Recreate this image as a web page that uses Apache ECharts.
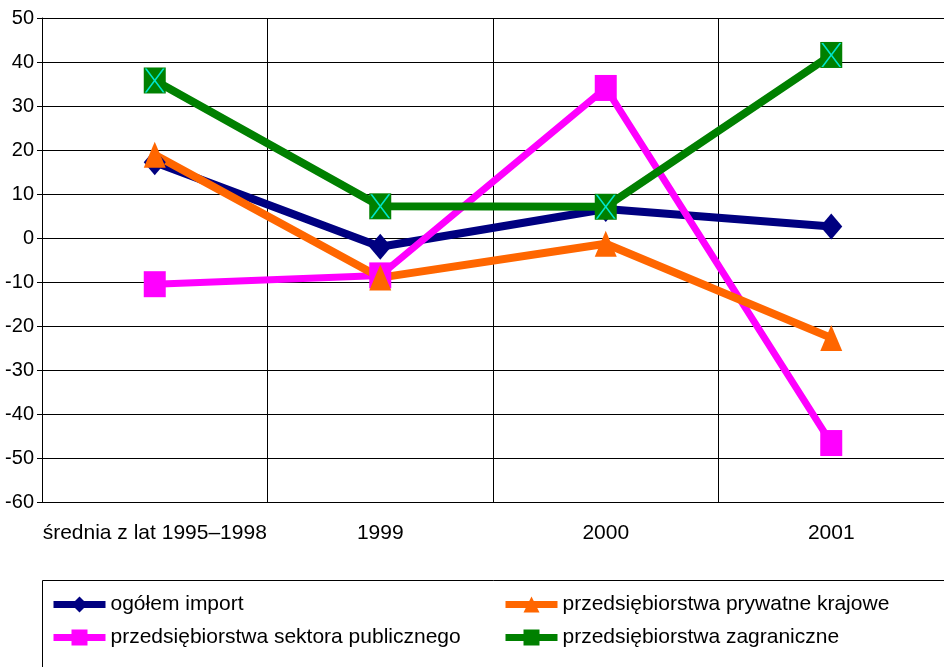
<!DOCTYPE html>
<html>
<head>
<meta charset="utf-8">
<script src="https://cdn.jsdelivr.net/npm/echarts@6/dist/echarts.min.js"></script>
<style>
  html, body { margin: 0; padding: 0; background: #fff; }
  #chart { width: 944px; height: 667px; }
</style>
</head>
<body>
<div id="chart"></div>
<script>
var categories = ['średnia z lat 1995–1998', '1999', '2000', '2001'];
var ogolem = [17.2, -2, 6.6, 2.6];
var prywatne = [18.9, -9, -1.3, -22.7];
var publiczne = [-10.5, -8.5, 34.1, -46.6];
var zagraniczne = [35.8, 7.2, 7.1, 41.6];
var yMin = -60, yMax = 50, yStep = 10;

var names = ['ogółem import', 'przedsiębiorstwa sektora publicznego',
  'przedsiębiorstwa prywatne krajowe', 'przedsiębiorstwa zagraniczne'];

var font = 'Liberation Sans, Arial, sans-serif';
// X for the foreign series markers (two thin diagonal strips)
var crossPath = 'path://M0,0 L2,0 L10,8.5 L18,0 L20,0 L11,9.5 L20,19 L18,19 L10,10.5 L2,19 L0,19 L9,9.5 Z';

var chart = echarts.init(document.getElementById('chart'));

function lineSeries(name, data, color, symbol, width) {
  return {
    name: name,
    type: 'line',
    data: data,
    symbol: symbol,
    symbolSize: [22, 26],
    showAllSymbol: true,
    lineStyle: { color: color, width: width },
    itemStyle: { color: color, borderWidth: 0 },
    emphasis: { disabled: true },
    animation: false
  };
}

var legendCommon = {
  orient: 'vertical',
  itemWidth: 52,
  itemHeight: 20,
  itemGap: 12,
  selectedMode: false,
  lineStyle: { width: 7 },
  textStyle: { fontFamily: font, fontSize: 21, color: '#000' }
};

chart.setOption({
  backgroundColor: '#fff',
  grid: { left: 42, right: 0, top: 18, bottom: 165 },
  xAxis: {
    type: 'category',
    data: categories,
    boundaryGap: true,
    axisLine: { onZero: false, lineStyle: { color: '#000', width: 1 } },
    axisTick: { show: false },
    axisLabel: { fontFamily: font, fontSize: 21, color: '#000', margin: 21, interval: 0 },
    splitLine: { show: true, interval: 0, lineStyle: { color: '#000', width: 1 } }
  },
  yAxis: {
    type: 'value',
    min: yMin,
    max: yMax,
    interval: yStep,
    axisLine: { show: true, lineStyle: { color: '#000', width: 1 } },
    axisTick: { show: true, length: 5, lineStyle: { color: '#000' } },
    axisLabel: { fontFamily: font, fontSize: 20, color: '#000', margin: 8 },
    splitLine: { show: true, lineStyle: { color: '#000', width: 1 } }
  },
  legend: [
    Object.assign({ left: 45, top: 589, data: [names[0], names[1]] }, legendCommon),
    Object.assign({ left: 497, top: 589, data: [names[2], names[3]] }, legendCommon)
  ],
  graphic: [{
    type: 'rect',
    shape: { x: 42.5, y: 580.5, width: 920, height: 120 },
    style: { fill: 'none', stroke: '#000', lineWidth: 1 },
    silent: true
  }],
  series: [
    lineSeries(names[0], ogolem, '#000080', 'diamond', 8),
    lineSeries(names[1], publiczne, '#ff00ff', 'rect', 7),
    lineSeries(names[2], prywatne, '#ff6600', 'triangle', 8),
    lineSeries(names[3], zagraniczne, '#008000', 'rect', 8),
    {
      name: 'zagraniczne-x',
      type: 'scatter',
      data: zagraniczne,
      symbol: crossPath,
      symbolSize: [20, 24],
      itemStyle: { color: '#00ffff' },
      emphasis: { disabled: true },
      animation: false,
      z: 3
    }
  ]
});
</script>
</body>
</html>
